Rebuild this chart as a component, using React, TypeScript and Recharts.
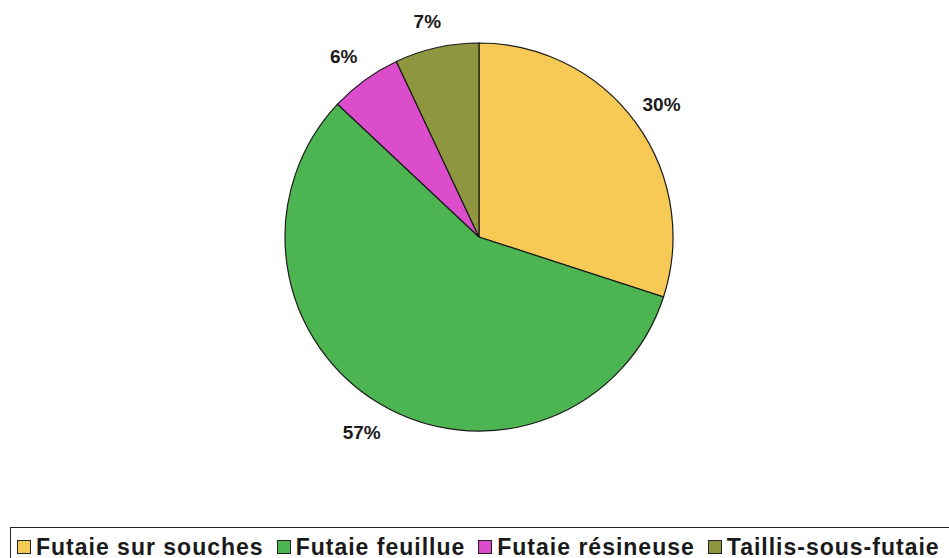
import { PieChart, Pie, Cell, Legend } from "recharts";

const categories = [
  "Futaie sur souches",
  "Futaie feuillue",
  "Futaie résineuse",
  "Taillis-sous-futaie",
];
const shares = [30, 57, 6, 7];
const colors = ["#F6CA55", "#4DB452", "#DC4DCC", "#8E963F"];

const data = categories.map((name, i) => ({ name, value: shares[i] }));

const RADIAN = Math.PI / 180;

// label sits just outside the pie, its box touching a circle a bit larger than the pie
const renderLabel = (props: any) => {
  const { cx, cy, midAngle, value, outerRadius } = props;
  const text = `${value}%`;
  const halfW = (text.length * 10.5) / 2;
  const halfH = 9;
  const c = Math.cos(-midAngle * RADIAN);
  const s = Math.sin(-midAngle * RADIAN);
  const ext = Math.min(
    Math.abs(c) > 1e-6 ? halfW / Math.abs(c) : 1e9,
    Math.abs(s) > 1e-6 ? halfH / Math.abs(s) : 1e9
  );
  const r = outerRadius + 20 + ext;
  const x = cx + r * c - 3;
  const y = cy + r * s + 2;
  return (
    <text
      x={x}
      y={y}
      textAnchor="middle"
      dominantBaseline="central"
      fill="#1a1a1a"
      fontSize={19}
      fontWeight="bold"
      fontFamily="Liberation Sans, Arial, sans-serif"
    >
      {text}
    </text>
  );
};

const renderLegend = () => (
  <div
    style={{
      border: "1.5px solid #222",
      borderRight: "none",
      height: 40,
      display: "flex",
      alignItems: "center",
      paddingLeft: 6,
      fontFamily: "Liberation Sans, Arial, sans-serif",
      fontWeight: "bold",
      fontSize: 23,
      letterSpacing: 1,
      color: "#1a1a1a",
      boxSizing: "border-box",
      whiteSpace: "nowrap",
    }}
  >
    {categories.map((c, i) => (
      <span
        key={c}
        style={{ display: "flex", alignItems: "center", marginRight: 13 }}
      >
        <span
          style={{
            width: 12,
            height: 12,
            background: colors[i],
            border: "1px solid #222",
            marginRight: 5,
            display: "inline-block",
          }}
        />
        {c}
      </span>
    ))}
  </div>
);

export default function App() {
  return (
    <div
      style={{
        position: "absolute",
        top: 0,
        left: 0,
        width: 949,
        height: 558,
        background: "#fff",
        overflow: "hidden",
      }}
    >
      <PieChart width={949} height={558} margin={{ top: 0, right: 0, bottom: 0, left: 0 }}>
        <Pie
          data={data}
          dataKey="value"
          nameKey="name"
          cx={479}
          cy={237}
          outerRadius={194}
          startAngle={90}
          endAngle={-270}
          stroke="#1a1a1a"
          strokeWidth={1.2}
          label={renderLabel}
          labelLine={false}
          isAnimationActive={false}
        >
          {data.map((d, i) => (
            <Cell key={d.name} fill={colors[i]} />
          ))}
        </Pie>
        <Legend
          content={renderLegend}
          wrapperStyle={{ position: "absolute", left: 10, top: 527, width: 945 }}
        />
      </PieChart>
    </div>
  );
}
